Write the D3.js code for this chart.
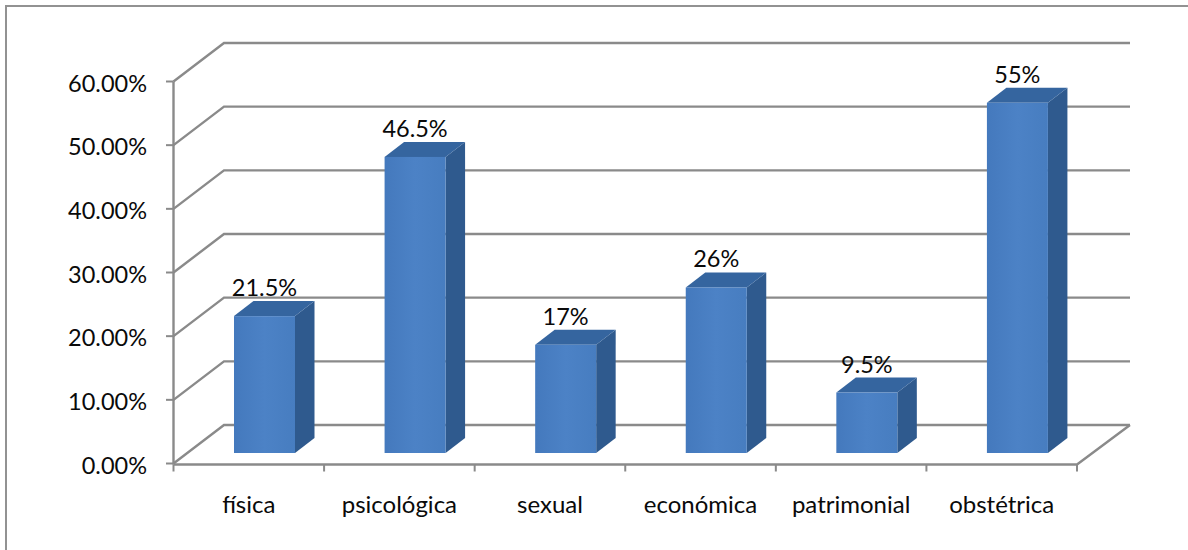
<!DOCTYPE html>
<html>
<head>
<title>Violencia</title>
<script src="https://d3js.org/d3.v7.min.js"></script>
<style type="text/css">
  body { margin: 0; background: #fff; }
  text { font-family: Lato, "Noto Sans", sans-serif; font-size: 23.5px; fill: #0a0a0a; }
  .cat { font-size: 24px; }
</style>
</head>
<body>
<div id="chart"></div>
<script type="text/javascript">
var categories = ["física", "psicológica", "sexual", "económica", "patrimonial", "obstétrica"];
var values = [21.5, 46.5, 17, 26, 9.5, 55];
var valueLabels = ["21.5%", "46.5%", "17%", "26%", "9.5%", "55%"];
var yTicks = [0, 10, 20, 30, 40, 50, 60];

var width = 1188, height = 550;
var depthX = 50.5, depthY = -38.5;   // offset of back wall
var barDX = 19.5, barDY = -15;       // depth of each bar

var svg = d3.select("#chart").append("svg")
  .attr("width", width).attr("height", height)
  .style("display", "block");

var x = d3.scaleBand().domain(categories).range([173.5, 1077]);
var y = d3.scaleLinear().domain([0, 60]).range([463.5, 81.5]);
// bars stand a little in front of the back wall, on the floor
var yBar = d3.scaleLinear().domain([0, 60]).range([453, 71]);

var grey = "#8a8a8a";

// chart frame
svg.append("path")
  .attr("d", "M6,550V6H1188")
  .attr("fill", "none").attr("stroke", "#929292").attr("stroke-width", 2);

// gridlines: side wall + back wall
svg.append("g").selectAll("path").data(yTicks).enter().append("path")
  .attr("d", function(d) {
    return "M" + 173.5 + "," + y(d) + "L" + (173.5 + depthX) + "," + (y(d) + depthY) + "H1130";
  })
  .attr("fill", "none").attr("stroke", grey).attr("stroke-width", 2.4);

// floor front and right edge
svg.append("path")
  .attr("d", "M173.5," + (y(0) + 1) + "H1077L1130," + (y(0) + depthY))
  .attr("fill", "none").attr("stroke", grey).attr("stroke-width", 2.4);

// y axis
svg.append("line")
  .attr("x1", 173.5).attr("x2", 173.5).attr("y1", y(60)).attr("y2", y(0) + 1)
  .attr("stroke", grey).attr("stroke-width", 2.4);
svg.append("g").selectAll("line").data(yTicks).enter().append("line")
  .attr("x1", 166).attr("x2", 173.5)
  .attr("y1", function(d) { return y(d); }).attr("y2", function(d) { return y(d); })
  .attr("stroke", grey).attr("stroke-width", 2);
svg.append("g").selectAll("text").data(yTicks).enter().append("text")
  .attr("x", 147).attr("y", function(d) { return y(d) + 10; })
  .attr("text-anchor", "end")
  .text(function(d) { return d.toFixed(2) + "%"; });

// x ticks
var xTicks = categories.map(function(c) { return x(c); }).concat([1077]);
svg.append("g").selectAll("line").data(xTicks).enter().append("line")
  .attr("x1", function(d) { return d; }).attr("x2", function(d) { return d; })
  .attr("y1", y(0) + 1).attr("y2", y(0) + 8)
  .attr("stroke", grey).attr("stroke-width", 2);
svg.append("g").selectAll("text").data(categories).enter().append("text")
  .attr("class", "cat")
  .attr("x", function(d) { return x(d) + x.bandwidth() / 2; })
  .attr("y", 513)
  .attr("text-anchor", "middle")
  .text(function(d) { return d; });

// gradient for front faces
var defs = svg.append("defs");
var grad = defs.append("linearGradient").attr("id", "front");
grad.append("stop").attr("offset", "0").attr("stop-color", "#4479bd");
grad.append("stop").attr("offset", "0.5").attr("stop-color", "#4c82c6");
grad.append("stop").attr("offset", "1").attr("stop-color", "#477dc0");

// bars
var barW = 61, barOff = 60.5;
var bars = svg.append("g").selectAll("g").data(categories).enter().append("g");

bars.append("path") // side
  .attr("d", function(d, i) {
    var l = x(d) + barOff + barW;
    return "M" + l + "," + yBar(0) + "L" + (l + barDX) + "," + (yBar(0) + barDY) +
      "V" + (yBar(values[i]) + barDY) + "L" + l + "," + yBar(values[i]) + "Z";
  })
  .attr("fill", "#2f5a8e");

bars.append("path") // top
  .attr("d", function(d, i) {
    var l = x(d) + barOff, t = yBar(values[i]);
    return "M" + l + "," + t + "L" + (l + barDX) + "," + (t + barDY) +
      "H" + (l + barW + barDX) + "L" + (l + barW) + "," + t + "Z";
  })
  .attr("fill", "#35659f");

bars.append("rect") // front
  .attr("x", function(d) { return x(d) + barOff; })
  .attr("y", function(d, i) { return yBar(values[i]); })
  .attr("width", barW)
  .attr("height", function(d, i) { return yBar(0) - yBar(values[i]); })
  .attr("fill", "url(#front)");

// value labels
svg.append("g").selectAll("text").data(categories).enter().append("text")
  .attr("x", function(d) { return x(d) + barOff + barW / 2; })
  .attr("y", function(d, i) { return yBar(values[i]) - 20; })
  .attr("text-anchor", "middle")
  .text(function(d, i) { return valueLabels[i]; });
</script>
</body>
</html>
